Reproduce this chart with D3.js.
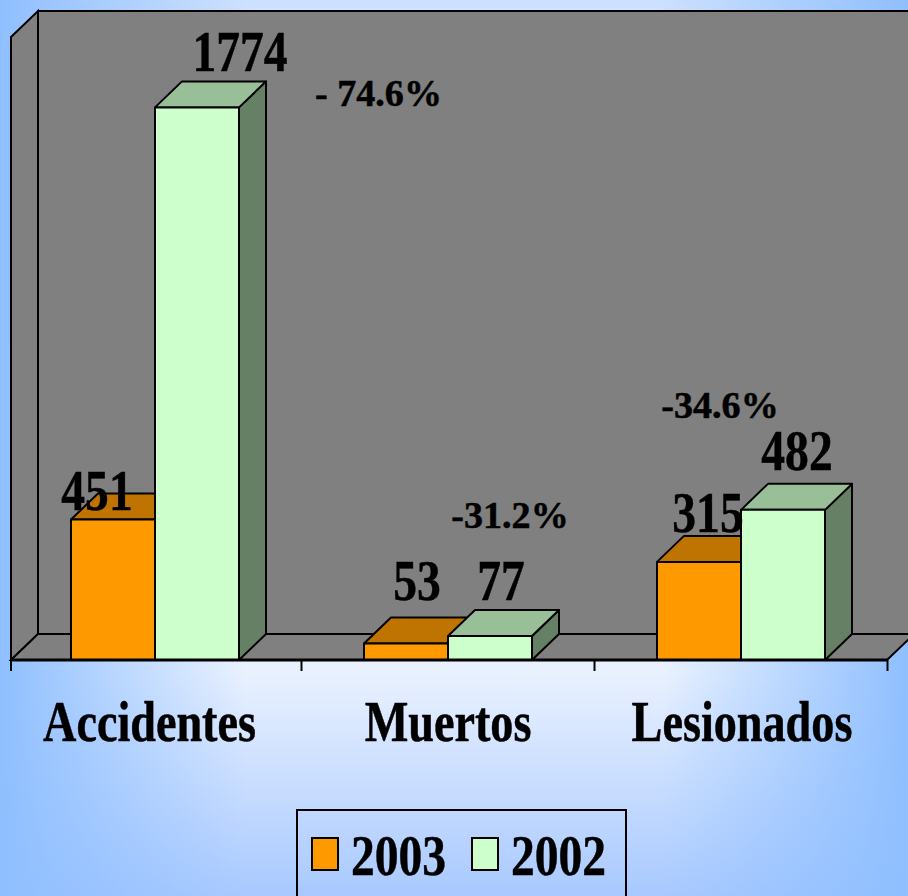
<!DOCTYPE html>
<html>
<head>
<meta charset="utf-8">
<script src="https://cdn.jsdelivr.net/npm/d3@7"></script>
<style>
  html, body { margin: 0; padding: 0; overflow: hidden; }
  text { font-family: "Liberation Serif", serif; font-weight: bold; fill: #000; stroke: #000; stroke-width: 0.5px; }
</style>
</head>
<body>
<div id="root"></div>
<script>
const categories = ["Accidentes", "Muertos", "Lesionados"];
const seriesNames = ["2003", "2002"];
const values2003 = [451, 53, 315];
const values2002 = [1774, 77, 482];
const changes = ["- 74.6%", "-31.2%", "-34.6%"];

const width = 908,
  height = 896,
  margins = { top: 37, left: 11, right: 21, bottom: 236 },
  depthX = 27,
  depthY = 26,
  barWidth = 84;

const colors = {
  "2003": { front: "#ff9900", top: "#bf7300", side: "#804d00" },
  "2002": { front: "#ccffcc", top: "#99bf99", side: "#668066" },
};

const svg = d3
  .select("#root")
  .append("svg")
  .attr("width", width)
  .attr("height", height)
  .attr("viewBox", [0, 0, width, height])
  .style("display", "block");

const defs = svg.append("defs");

// background: pale vertical wash with blue fading in from both sides
const vGrad = defs
  .append("linearGradient")
  .attr("id", "bgV")
  .attr("x1", 0)
  .attr("x2", 0)
  .attr("y1", 0)
  .attr("y2", 1);
vGrad.append("stop").attr("offset", 0).attr("stop-color", "#cde0ff");
vGrad.append("stop").attr("offset", 0.75).attr("stop-color", "#e9f1ff");
vGrad.append("stop").attr("offset", 1).attr("stop-color", "#a8c9ff");

const hGrad = defs
  .append("linearGradient")
  .attr("id", "bgH")
  .attr("x1", 0)
  .attr("x2", 1)
  .attr("y1", 0)
  .attr("y2", 0);
hGrad.append("stop").attr("offset", 0).attr("stop-color", "#8fbfff").attr("stop-opacity", 1);
hGrad.append("stop").attr("offset", 0.27).attr("stop-color", "#8fbfff").attr("stop-opacity", 0);
hGrad.append("stop").attr("offset", 0.73).attr("stop-color", "#8fbfff").attr("stop-opacity", 0);
hGrad.append("stop").attr("offset", 1).attr("stop-color", "#8fbfff").attr("stop-opacity", 1);

svg.append("rect").attr("width", width).attr("height", height).attr("fill", "url(#bgV)");
svg.append("rect").attr("width", width).attr("height", height).attr("fill", "url(#bgH)");

const x0 = margins.left,
  x1 = width - margins.right,
  yBase = height - margins.bottom;

const xBand = d3.scaleBand().domain(categories).range([8.5, 887.5]);
const xInner = d3
  .scaleBand()
  .domain(seriesNames)
  .range([xBand.bandwidth() / 2 - barWidth, xBand.bandwidth() / 2 + barWidth]);
const yScale = d3.scaleLinear().domain([0, 2000]).range([yBase, margins.top]);

const poly = (pts) => pts.map((p) => p.join(",")).join(" ");

// walls and floor
const walls = svg.append("g").attr("stroke", "#000").attr("stroke-width", 2).attr("fill", "#808080");
walls
  .append("polygon")
  .attr("points", poly([
    [x0 + depthX, margins.top - depthY],
    [x1 + depthX, margins.top - depthY],
    [x1 + depthX, yBase - depthY],
    [x0 + depthX, yBase - depthY],
  ]));
walls
  .append("polygon")
  .attr("points", poly([
    [x0, margins.top],
    [x0 + depthX, margins.top - depthY],
    [x0 + depthX, yBase - depthY],
    [x0, yBase],
  ]));
walls
  .append("polygon")
  .attr("points", poly([
    [x0, yBase],
    [x0 + depthX, yBase - depthY],
    [x1 + depthX, yBase - depthY],
    [x1, yBase],
  ]));

// bars, 2003 first so the 2002 block sits on top of it
const bars = seriesNames.flatMap((name, s) =>
  categories.map((cat, i) => ({
    name,
    cat,
    value: (s === 0 ? values2003 : values2002)[i],
  }))
);

const bar = svg
  .append("g")
  .attr("stroke", "#000")
  .attr("stroke-width", 2)
  .attr("stroke-linejoin", "round")
  .selectAll("g")
  .data(bars)
  .join("g");

const left = (d) => xBand(d.cat) + xInner(d.name);
const right = (d) => left(d) + xInner.bandwidth();

bar
  .append("polygon")
  .attr("fill", (d) => colors[d.name].side)
  .attr("points", (d) => poly([
    [right(d), yScale(d.value)],
    [right(d) + depthX, yScale(d.value) - depthY],
    [right(d) + depthX, yBase - depthY],
    [right(d), yBase],
  ]));
bar
  .append("polygon")
  .attr("fill", (d) => colors[d.name].top)
  .attr("points", (d) => poly([
    [left(d), yScale(d.value)],
    [left(d) + depthX, yScale(d.value) - depthY],
    [right(d) + depthX, yScale(d.value) - depthY],
    [right(d), yScale(d.value)],
  ]));
bar
  .append("rect")
  .attr("fill", (d) => colors[d.name].front)
  .attr("x", left)
  .attr("y", (d) => yScale(d.value))
  .attr("width", xInner.bandwidth())
  .attr("height", (d) => yBase - yScale(d.value));

// axis
svg
  .append("line")
  .attr("x1", x0)
  .attr("x2", x1)
  .attr("y1", yBase)
  .attr("y2", yBase)
  .attr("stroke", "#000")
  .attr("stroke-width", 3);

svg
  .append("g")
  .attr("stroke", "#000")
  .attr("stroke-width", 2)
  .selectAll("line")
  .data(d3.range(categories.length + 1))
  .join("line")
  .attr("x1", (i) => Math.max(x0, xBand.range()[0] + i * xBand.step()))
  .attr("x2", (i) => Math.max(x0, xBand.range()[0] + i * xBand.step()))
  .attr("y1", yBase)
  .attr("y2", yBase + 11);

// text is squeezed horizontally in the reference
function label(text, cx, baseline, size, sx) {
  svg
    .append("text")
    .attr("transform", `translate(${cx},${baseline}) scale(${sx},1)`)
    .attr("text-anchor", "middle")
    .attr("font-size", size)
    .text(text);
}

const bigSize = 58,
  squeeze = 0.82;

const categoryShift = [-5.5, 0, 1];
categories.forEach((cat, i) => {
  label(cat, xBand(cat) + xBand.bandwidth() / 2 + categoryShift[i], 741, 56, 0.825);
});

// value labels
const shift2003 = [-16, 11, 9],
  shift2002 = [43, 11, 14],
  raise2003 = [10, 43, 30],
  raise2002 = [36, 36, 40];
values2003.forEach((v, i) => {
  const cat = categories[i];
  label(v, xBand(cat) + xInner("2003") + xInner.bandwidth() / 2 + shift2003[i], yScale(v) - raise2003[i], bigSize, squeeze);
});
values2002.forEach((v, i) => {
  const cat = categories[i];
  label(v, xBand(cat) + xInner("2002") + xInner.bandwidth() / 2 + shift2002[i], yScale(v) - raise2002[i], bigSize, squeeze);
});

// change annotations
const changeX = [378.5, 510, 720],
  changeY = [106, 528, 418];
changes.forEach((c, i) => label(c, changeX[i], changeY[i], 37, 1.03));

// legend
const legend = svg.append("g");
legend
  .append("rect")
  .attr("x", 297)
  .attr("y", 810)
  .attr("width", 329)
  .attr("height", 100)
  .attr("fill", "none")
  .attr("stroke", "#000")
  .attr("stroke-width", 2);
seriesNames.forEach((name, i) => {
  legend
    .append("rect")
    .attr("x", 312 + i * 160)
    .attr("y", 838)
    .attr("width", 26)
    .attr("height", 32)
    .attr("fill", colors[name].front)
    .attr("stroke", "#000")
    .attr("stroke-width", 2);
  label(name, 398.5 + i * 160, 875, bigSize, squeeze);
});
</script>
</body>
</html>
